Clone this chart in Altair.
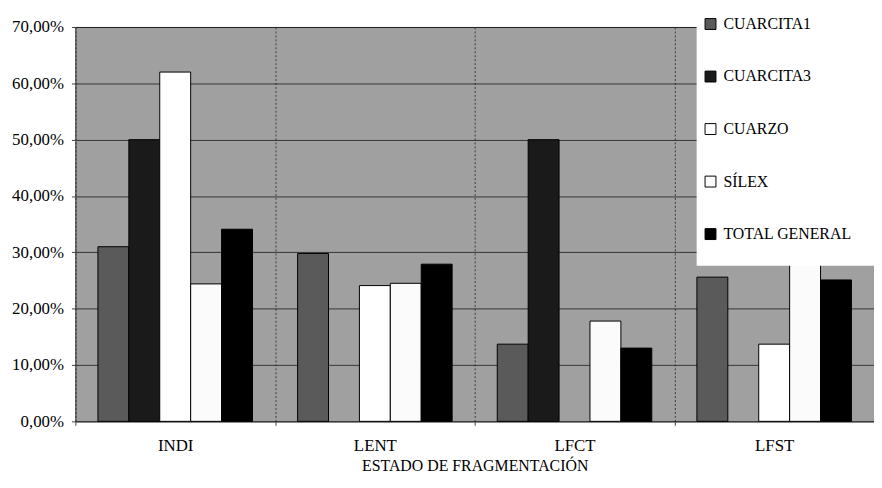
import altair as alt
import pandas as pd

categories = ["INDI", "LENT", "LFCT", "LFST"]
series = ["CUARCITA1", "CUARCITA3", "CUARZO", "SÍLEX", "TOTAL GENERAL"]
cuarcita1 = [31.0, 29.8, 13.7, 25.6]
cuarcita3 = [50.0, 0.0, 50.0, 0.0]
cuarzo = [62.0, 24.1, 0.0, 13.7]
silex = [24.4, 24.5, 17.8, 37.5]
total_general = [34.1, 27.9, 13.0, 25.1]
y_ticks = [0, 10, 20, 30, 40, 50, 60, 70]
colors = ["#5a5a5a", "#1a1a1a", "#ffffff", "#fbfbfb", "#000000"]

values = [cuarcita1, cuarcita3, cuarzo, silex, total_general]
rows = []
for s, vals in zip(series, values):
    for c, v in zip(categories, vals):
        rows.append({"cat": c, "serie": s, "value": v})
df = pd.DataFrame(rows)

FONT = "Liberation Serif"

chart = (
    alt.Chart(df)
    .transform_filter("datum.value > 0")
    .mark_bar(stroke="black", strokeWidth=1)
    .encode(
        x=alt.X(
            "cat:N",
            sort=categories,
            scale=alt.Scale(domain=categories, paddingInner=0, paddingOuter=0),
            axis=alt.Axis(
                title="ESTADO DE FRAGMENTACIÓN",
                labelAngle=0,
                grid=True,
                tickBand="extent",
                gridColor="#222",
                gridDash=[2, 2],
                gridOpacity=0.8,
                domain=False,
                tickSize=4,
                tickColor="#444",
                labelPadding=12,
                titlePadding=5,
                labelFont=FONT,
                titleFont=FONT,
            ),
        ),
        xOffset=alt.XOffset(
            "serie:N",
            sort=series,
            scale=alt.Scale(domain=series, paddingInner=0, paddingOuter=0.73),
        ),
        y=alt.Y(
            "value:Q",
            scale=alt.Scale(domain=[0, 70]),
            axis=alt.Axis(
                values=y_ticks,
                title=None,
                labelExpr="replace(format(datum.value, '.2f'), '.', ',') + '%'",
                gridColor="#222",
                gridOpacity=0.85,
                domain=False,
                tickSize=4,
                tickColor="#444",
                labelPadding=8,
                labelFont=FONT,
            ),
        ),
        fill=alt.Fill(
            "serie:N",
            sort=series,
            scale=alt.Scale(domain=series, range=colors),
            legend=alt.Legend(
                title=" ",
                titleOrient="bottom",
                titleFontSize=8,
                titlePadding=10,
                orient="none",
                legendX=627,
                legendY=-17,
                fillColor="white",
                padding=6,
                symbolType="square",
                symbolSize=121,
                symbolStrokeColor="black",
                symbolStrokeWidth=1,
                labelFont=FONT,
                labelFontSize=16,
                labelColor="black",
                labelOffset=5,
                rowPadding=37,
                labelLimit=400,
                labelExpr="datum.label + '\u2800\u2800'",
            ),
        ),
    )
    .properties(
        width=806,
        height=398,
        autosize=alt.AutoSizeParams(type="none"),
        padding={"left": 68, "top": 17, "right": 0, "bottom": 55},
    )
    .configure(font=FONT)
    .configure_view(fill="#a0a0a0", stroke="#222", strokeWidth=1)
    .configure_axis(
        labelFontSize=17,
        labelColor="black",
        titleFontSize=16,
        titleFontWeight="normal",
        titleColor="black",
    )
)

chart.save("out.html", embed_options={"renderer": "svg", "actions": False})
